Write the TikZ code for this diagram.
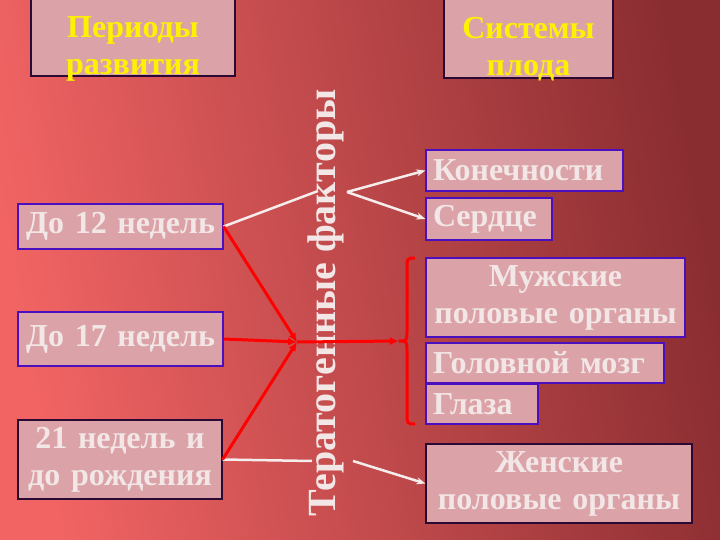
\documentclass[tikz,border=0pt]{standalone}
\usepackage{fontspec}
\setmainfont{Liberation Serif}
\usetikzlibrary{arrows.meta}
\definecolor{boxfill}{HTML}{DBA3A8}
\definecolor{boxedge}{HTML}{4A10C0}
\definecolor{darkedge}{HTML}{2A0A35}
\definecolor{paletext}{HTML}{F2E6E6}
\definecolor{bgleft}{HTML}{F26464}
\definecolor{bgmid}{HTML}{B24446}
\definecolor{bgright}{HTML}{8A2D31}
\definecolor{wline}{HTML}{F5ECEC}

\begin{document}
\begin{tikzpicture}[x=1pt,y=-1pt,
    box/.style={draw=boxedge, line width=1.2pt, fill=boxfill, inner xsep=7pt, inner ysep=0pt,
      text=paletext, font=\fontsize{32}{37}\selectfont\bfseries, align=center},
    leftbox/.style={box, align=left},
    titlebox/.style={draw=darkedge, line width=1.2pt, fill=boxfill, inner sep=0pt},
    titletext/.style={text=yellow, font=\fontsize{32}{37}\selectfont\bfseries, align=center},
    redline/.style={red, line width=3pt},
    whiteline/.style={wline, line width=2.5pt}]
    \useasboundingbox (0,0) rectangle (720,540);
    \shade[left color=bgleft, middle color=bgmid, right color=bgright, shading angle=100] (0,0) rectangle (720,540);
    % headers
    \node[titlebox, minimum width=204pt, minimum height=78pt] (periods) at (133,37) {};
    \node[titletext] at ([yshift=-12pt]periods.center) {Периоды\\развития};
    \node[titlebox, minimum width=169pt, minimum height=80pt] (systems) at (528.5,38) {};
    \node[titletext] at ([yshift=-11pt]systems.center) {Системы\\плода};
    % periods of development
    \node[box, text width=191pt, minimum height=45pt] (d12) at (120.5,226.5) {До 12 недель};
    \node[box, text width=191pt, minimum height=54pt] (d17) at (120.5,339) {До 17 недель};
    \node[box, draw=darkedge, text width=190pt, minimum height=79pt] (d21) at (120,459.5) {21 недель и\\до рождения};
    % vertical label
    \node[rotate=90, text=paletext, font=\fontsize{40}{44}\selectfont\bfseries] (factors) at (326,303) {Тератогенные факторы};
    % fetal systems
    \node[leftbox, text width=183pt, minimum height=41pt] (limbs) at (524.5,170.5) {Конечности};
    \node[leftbox, text width=112pt, minimum height=42pt] (heart) at (489,219) {Сердце};
    \node[box, text width=245pt, minimum height=79pt] (male) at (555.5,297.5) {Мужские\\половые органы};
    \node[leftbox, text width=224pt, minimum height=40pt] (brain) at (545,363) {Головной мозг};
    \node[leftbox, text width=98pt, minimum height=40pt] (eyes) at (482,404) {Глаза};
    \node[box, draw=darkedge, text width=252pt, minimum height=79pt] (female) at (559,483.5) {Женские\\половые органы};
    % white connectors
    \coordinate (w1) at (318,191);
    \coordinate (w2) at (347,192);
    \coordinate (w3) at (312,461);
    \coordinate (w4) at (353,461);
    \draw[whiteline] (d12.east) -- (w1);
    \draw[whiteline, -{Stealth[length=9pt,width=7pt]}] (w2) -- (limbs.west);
    \draw[whiteline, -{Stealth[length=9pt,width=7pt]}] (w2) -- (heart.west);
    \draw[whiteline] (d21.east) -- (w3);
    \draw[whiteline, -{Stealth[length=9pt,width=7pt]}] (w4) -- (female.west);
    % red connectors
    \coordinate (hub) at (297,342);
    \coordinate (tip) at (399,341);
    \draw[redline, -{Latex[length=9pt,width=8pt]}] (d12.east) -- (hub);
    \draw[redline, -{Latex[length=9pt,width=8pt]}] (d17.east) -- (hub);
    \draw[redline, -{Latex[length=9pt,width=8pt]}] (d21.east) -- (hub);
    \draw[redline, -{Latex[length=9pt,width=8pt]}] (hub) -- (tip);
    \draw[redline] (415,258) .. controls (407,258) .. (407,270) -- (407,330)
      .. controls (407,341) .. (tip) .. controls (407,341) .. (407,352) -- (407,412)
      .. controls (407,424) .. (415,424);
\end{tikzpicture}
\end{document}
